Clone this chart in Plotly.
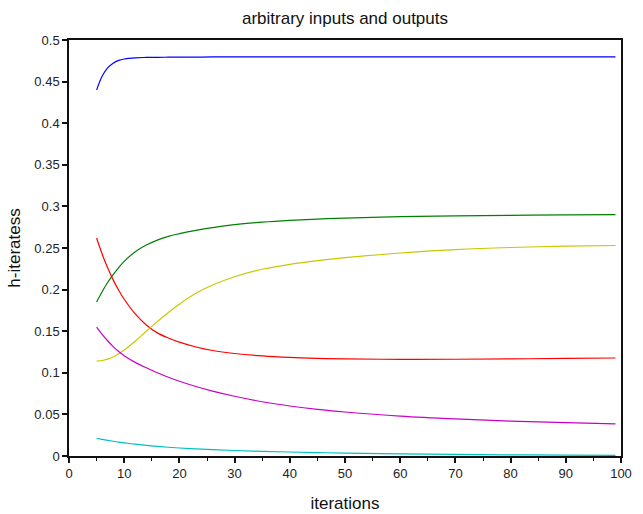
import plotly.graph_objects as go

x = [5, 6, 7, 8, 9, 10, 12, 14, 16, 18, 20, 23, 26, 30, 35, 40, 45, 50, 60, 70, 80, 90, 99]

blue = [0.440, 0.4565, 0.4665, 0.4722, 0.4755, 0.4772, 0.4786, 0.4790, 0.4792, 0.4793, 0.4794, 0.4795, 0.4796, 0.4797, 0.4797, 0.4797, 0.4797, 0.4797, 0.4797, 0.4797, 0.4797, 0.4797, 0.4797]
green = [0.185, 0.1975, 0.2085, 0.218, 0.2265, 0.234, 0.2455, 0.2535, 0.2595, 0.264, 0.2672, 0.2712, 0.2745, 0.2780, 0.2810, 0.2832, 0.2848, 0.2860, 0.2876, 0.2886, 0.2893, 0.2897, 0.2900]
red = [0.262, 0.2428, 0.2262, 0.2117, 0.1992, 0.1884, 0.1708, 0.1575, 0.1480, 0.1418, 0.1368, 0.1310, 0.1268, 0.1232, 0.1203, 0.1185, 0.1174, 0.1167, 0.1162, 0.1163, 0.1167, 0.1173, 0.1178]
yellow = [0.114, 0.1148, 0.1165, 0.119, 0.123, 0.1275, 0.138, 0.150, 0.1615, 0.1725, 0.1825, 0.1955, 0.2055, 0.2155, 0.2245, 0.2303, 0.2348, 0.2384, 0.2440, 0.2480, 0.2506, 0.2522, 0.2530]
magenta = [0.155, 0.1463, 0.1385, 0.1315, 0.1255, 0.1205, 0.1125, 0.1060, 0.1000, 0.0946, 0.0898, 0.0835, 0.0780, 0.0718, 0.0652, 0.0601, 0.0560, 0.0529, 0.0480, 0.0446, 0.0420, 0.0400, 0.0386]
cyan = [0.0213, 0.0200, 0.0188, 0.0177, 0.0167, 0.0158, 0.0142, 0.0128, 0.0116, 0.0105, 0.0096, 0.0085, 0.0076, 0.0066, 0.0056, 0.0048, 0.0041, 0.0035, 0.0026, 0.0019, 0.0014, 0.0010, 0.0008]

series = [(blue, "#0000ff"), (green, "#008000"), (red, "#ff0000"),
          (yellow, "#c8c800"), (magenta, "#c800c8"), (cyan, "#00c0c0")]

fig = go.Figure()
for y, c in series:
    fig.add_trace(go.Scatter(x=x, y=y, mode="lines", line=dict(color=c, width=1.2, shape="spline"),
                             showlegend=False, hoverinfo="skip"))

font = "Liberation Sans, Arial, sans-serif"
fig.update_layout(
    width=643, height=514,
    margin=dict(l=69, r=22, t=40, b=58, autoexpand=False),
    paper_bgcolor="white", plot_bgcolor="white",
    font=dict(family=font, color="#222", size=13),
    title=dict(text="arbitrary inputs and outputs", x=(69 + 621) / 2 / 643, xanchor="center",
               y=1 - 18 / 514, yanchor="middle", font=dict(size=17, color="#111")),
    xaxis=dict(range=[0, 100], dtick=10, tick0=0, showgrid=False, zeroline=False,
               showline=True, linecolor="#111", linewidth=1.5, mirror=True, automargin=False,
               ticks="outside", ticklen=5, tickwidth=1.5, tickcolor="#111",
               minor=dict(dtick=5, ticks="outside", ticklen=3, tickwidth=1, tickcolor="#111"),
               title=dict(text="iterations", font=dict(size=17, color="#111"), standoff=17)),
    yaxis=dict(range=[0, 0.5], dtick=0.05, tick0=0, showgrid=False, zeroline=False,
               showline=True, linecolor="#111", linewidth=1.5, mirror=True, automargin=False,
               ticks="outside", ticklen=5, tickwidth=1.5, tickcolor="#111",
               tickformat="~g",
               title=dict(text="h-iteratess", font=dict(size=17, color="#111"), standoff=9)),
)
fig.write_html("out.html")
